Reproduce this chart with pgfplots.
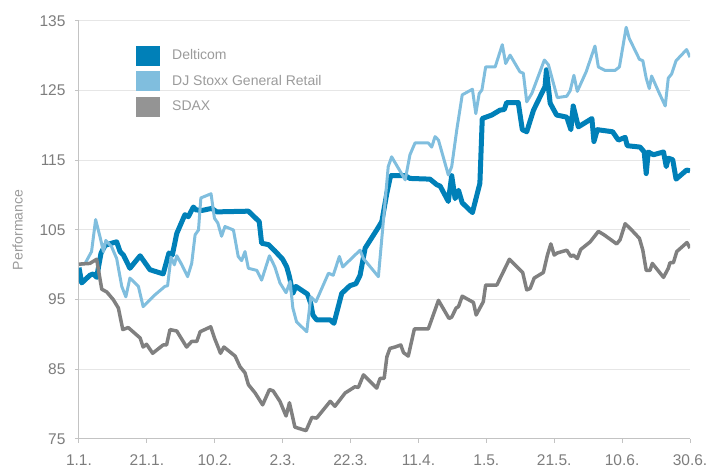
\documentclass[border=0pt]{standalone}
\usepackage{pgfplots}
\pgfplotsset{compat=1.18}
\usepackage{fontspec}
\setmainfont{Liberation Sans}
\definecolor{delt}{RGB}{0,128,184}
\definecolor{djs}{RGB}{128,190,222}
\definecolor{sdax}{RGB}{128,128,128}
\definecolor{sdaxleg}{RGB}{148,148,148}
\definecolor{ticktext}{RGB}{125,125,125}
\definecolor{legtext}{RGB}{155,155,155}
\definecolor{axline}{RGB}{195,195,195}
\definecolor{gridc}{RGB}{230,230,230}
\begin{document}
\begin{tikzpicture}
\begin{axis}[
  scale only axis, width=611pt, height=418pt,
  xmin=0, xmax=180, ymin=75, ymax=135,
  axis lines=left, axis line style={axline, line width=1pt, -},
  xtick={0,20,40,60,80,100,120,140,160,180},
  xticklabels={1.1.,21.1.,10.2.,2.3.,22.3.,11.4.,1.5.,21.5.,10.6.,30.6.},
  ytick={75,85,95,105,115,125,135},
  tick align=outside, major tick length=4pt,
  tick style={axline, line width=1pt},
  ymajorgrids, grid style={gridc, line width=1pt},
  /pgf/number format/assume math mode=true,
  tick label style={font=\fontsize{15.5}{18}\selectfont, text=ticktext},
  yticklabel style={xshift=-6pt},
  xticklabel style={yshift=-8pt},
  ylabel={Performance},
  ylabel style={font=\fontsize{14}{16}\selectfont, text=legtext, yshift=10pt},
  line join=round,
]
\addplot[delt, line width=5pt] coordinates {
(0.0,99.6) (0.8,97.4) (3.2,98.5) (4.2,98.7) (5.2,98.2) (6.5,101.7) (7.7,102.8)
(9.6,103.1) (11.1,103.3) (12.1,101.9) (13.1,101.4) (15.0,99.5) (18.0,101.3)
(20.9,99.3) (24.8,98.7) (26.5,101.7) (27.5,101.4) (28.8,104.5) (31.2,107.2)
(32.2,106.9) (33.7,108.3) (34.4,107.9) (36.2,107.8) (39.1,108.1) (40.6,107.6)
(49.9,107.7) (51.4,107.0) (53.1,106.2) (53.8,103.1) (55.8,102.9) (57.7,102.0)
(60.0,100.8) (61.2,99.7) (62.0,98.3) (63.0,95.9) (63.9,96.9) (67.3,95.8)
(68.3,94.4) (68.9,92.8) (70.0,92.1) (74.0,92.1) (75.1,91.6) (77.4,95.9)
(79.8,97.0) (81.6,97.3) (82.8,98.5) (84.3,102.4) (87.7,105.0) (89.2,106.2)
(90.7,110.3) (91.8,112.8) (96.1,112.8) (97.5,112.4) (103.4,112.3) (105.4,111.5)
(106.4,111.3) (108.8,109.1) (109.8,112.8) (110.8,109.5) (111.8,110.7) (112.9,108.9)
(115.9,107.5) (118.1,111.7) (118.8,121.0) (121.6,121.5) (124.0,122.2) (125.3,122.3)
(126.0,123.3) (129.4,123.3) (130.6,119.4) (131.9,119.1) (133.9,122.2) (137.3,125.6)
(137.7,128.0) (138.8,123.2) (140.7,121.5) (143.7,121.2) (144.9,119.4) (145.6,122.8)
(147.1,119.8) (151.1,121.0) (151.7,117.7) (152.7,119.4) (157.2,119.1) (158.9,117.9)
(160.9,118.3) (161.5,117.1) (165.3,116.9) (166.5,116.2) (167.1,113.1) (167.7,116.2)
(169.2,115.8) (172.2,116.2) (173.0,114.1) (173.6,115.3) (174.9,115.1) (175.9,112.3)
(179.0,113.6) (180.0,113.5)
};
\addplot[djs, line width=3pt] coordinates {
(0.0,100.0) (1.8,100.2) (3.7,101.9) (4.9,106.5) (6.2,104.0) (7.2,101.9) (7.9,103.5)
(9.6,102.6) (11.1,100.9) (12.6,96.9) (13.8,95.4) (15.0,98.1) (17.5,96.9) (18.9,94.0)
(19.9,94.5) (22.4,95.7) (25.3,96.9) (26.1,97.0) (27.1,101.1) (28.1,100.0) (28.8,101.3)
(30.3,100.0) (32.0,98.3) (33.2,100.2) (34.2,104.3) (35.2,105.0) (35.9,109.6)
(38.9,110.2) (39.9,106.7) (40.9,106.0) (42.0,104.1) (43.0,105.5) (45.5,105.0)
(46.9,101.2) (47.9,100.6) (48.9,101.9) (49.9,99.5) (52.4,99.2) (53.8,97.8)
(56.1,101.3) (57.7,99.7) (59.2,97.4) (61.0,96.0) (62.2,97.6) (63.0,93.8) (64.1,91.8)
(67.1,90.4) (68.3,95.4) (69.8,94.7) (73.5,98.8) (74.9,98.5) (76.7,101.2) (77.7,99.7)
(82.8,102.1) (83.8,100.9) (88.2,98.3) (91.1,114.1) (92.1,115.5) (96.1,112.2)
(97.5,115.8) (99.0,117.5) (102.9,117.5) (103.9,116.9) (104.9,118.4) (105.9,117.9)
(108.8,112.9) (109.8,114.1) (111.3,119.4) (112.9,124.4) (115.9,125.2) (116.9,121.7)
(117.9,124.6) (118.7,125.1) (119.8,128.4) (122.6,128.4) (124.7,131.6) (125.7,128.9)
(127.0,130.1) (129.9,127.7) (130.9,127.5) (131.9,123.4) (133.4,124.6) (137.1,129.4)
(138.3,128.7) (140.9,124.0) (143.7,124.2) (144.7,125.0) (145.8,127.2) (146.8,124.9)
(149.4,127.7) (152.0,131.4) (153.0,128.4) (155.0,127.9) (157.9,127.9) (159.2,128.4)
(161.2,134.1) (162.1,132.5) (165.1,129.5) (166.1,129.3) (167.1,126.8) (168.0,125.3)
(168.7,127.1) (170.7,124.9) (172.7,122.8) (173.6,126.8) (174.6,127.4) (175.9,129.3)
(179.0,130.9) (180.0,129.8)
};
\addplot[sdax, line width=3.5pt] coordinates {
(0.0,100.1) (3.2,100.2) (5.2,100.8) (6.7,96.5) (8.2,96.1) (10.1,95.0) (11.6,93.8)
(12.9,90.7) (14.5,91.0) (18.0,89.5) (18.9,88.2) (19.9,88.6) (21.7,87.3) (24.8,88.5)
(25.8,88.5) (26.8,90.7) (28.8,90.5) (31.7,88.2) (33.2,89.0) (34.7,89.0) (35.7,90.4)
(38.8,91.1) (39.9,89.5) (41.7,87.3) (42.7,88.2) (46.0,86.9) (47.4,85.4) (48.9,84.5)
(49.9,82.8) (51.9,81.6) (54.1,79.9) (56.1,82.1) (57.2,81.9) (59.2,80.4) (61.0,78.3)
(62.0,80.2) (63.6,76.7) (66.9,76.2) (68.6,78.1) (70.0,78.0) (74.0,80.4) (75.4,79.7)
(78.4,81.6) (81.3,82.5) (82.3,82.4) (83.8,84.2) (87.7,82.3) (88.7,83.7) (89.9,83.7)
(90.7,86.8) (91.6,88.0) (93.1,88.2) (94.8,88.5) (95.6,87.4) (97.0,86.9) (98.8,90.8)
(102.9,90.8) (105.9,94.9) (109.0,92.3) (109.8,92.5) (111.1,93.8) (111.8,94.0)
(112.9,95.5) (116.2,94.6) (117.0,92.8) (119.1,94.7) (119.8,97.1) (123.1,97.1)
(124.8,98.8) (126.8,100.8) (130.7,98.9) (131.9,96.4) (132.9,96.6) (134.1,98.1)
(136.8,98.9) (138.0,101.4) (139.0,103.0) (140.0,101.4) (140.9,101.7) (143.7,102.1)
(144.9,101.2) (145.6,101.4) (146.8,100.9) (147.8,102.2) (150.6,103.3) (153.0,104.8)
(154.7,104.3) (158.4,103.0) (159.4,103.6) (160.9,105.9) (162.6,105.1) (165.1,103.8)
(166.1,102.1) (167.1,99.2) (168.2,99.2) (168.9,100.2) (172.2,98.2) (173.6,99.5)
(174.1,100.3) (175.1,100.3) (176.1,101.9) (179.1,103.2) (180.0,102.4)
};
\coordinate (sw) at (rel axis cs:0,0);
\coordinate (ne) at (rel axis cs:1,1);
\coordinate (tl) at (rel axis cs:0,1);
\end{axis}
% legend
\fill[delt] ([shift={(57pt,-25pt)}]tl) rectangle ([shift={(81pt,-45pt)}]tl);
\fill[djs] ([shift={(57pt,-50pt)}]tl) rectangle ([shift={(81pt,-70pt)}]tl);
\fill[sdaxleg] ([shift={(57pt,-76pt)}]tl) rectangle ([shift={(81pt,-96pt)}]tl);
\begin{scope}[every node/.style={anchor=base west, inner sep=0pt, text=legtext, font=\fontsize{14}{16}\selectfont}]
\node at ([shift={(93pt,-39pt)}]tl) {Delticom};
\node at ([shift={(93pt,-65pt)}]tl) {DJ Stoxx General Retail};
\node at ([shift={(93pt,-90pt)}]tl) {SDAX};
\end{scope}
\pgfresetboundingbox
\path ([shift={(-79pt,-32pt)}]sw) rectangle ([shift={(19pt,21pt)}]ne);
\end{tikzpicture}
\end{document}
